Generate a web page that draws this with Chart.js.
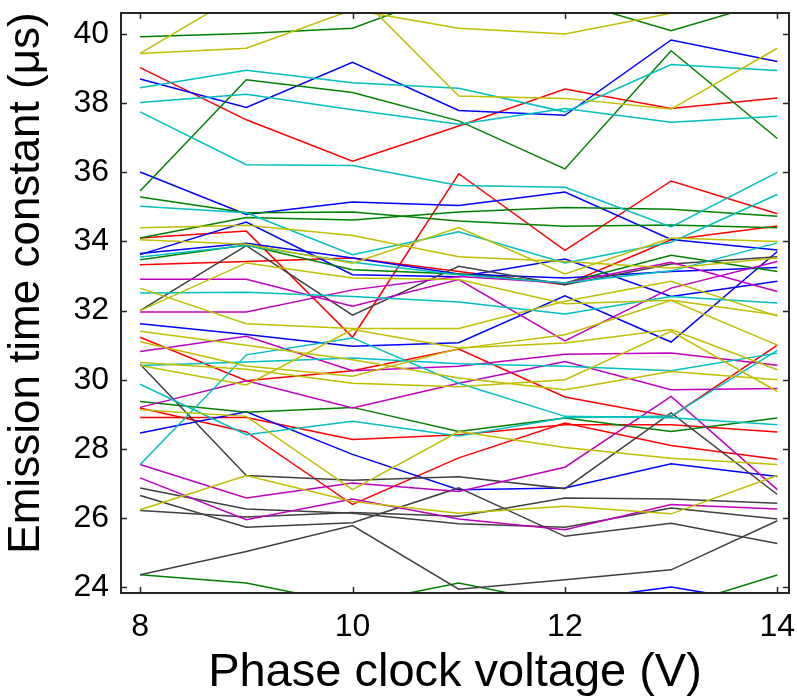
<!DOCTYPE html>
<html>
<head>
<meta charset="utf-8">
<script src="https://cdn.jsdelivr.net/npm/chart.js@4/dist/chart.umd.min.js"></script>
<style>
  html, body { margin: 0; padding: 0; background: #ffffff; }
  #wrap { width: 797px; height: 698px; }
</style>
</head>
<body>
<div id="wrap"><canvas id="c" width="797" height="698"></canvas></div>
<script>
// ---------------- data ----------------
const voltages = [8, 9, 10, 11, 12, 13, 14];
const xTickValues = [8, 10, 12, 14];
const yTickValues = [24, 26, 28, 30, 32, 34, 36, 38, 40];
const xTitle = 'Phase clock voltage (V)';
const yTitle = 'Emission time constant (μs)';

// blue series
const blue1 = [38.70, 37.88, 39.18, 37.79, 37.65, 39.83, 39.21];
const blue2 = [36.01, 34.78, 35.14, 35.04, 35.43, 34.06, 33.75];
const blue3 = [33.62, 34.56, 33.04, 32.98, 33.49, 32.41, 32.85];
const blue4 = [33.65, 33.95, 33.52, 33.06, 32.94, 33.13, 33.25];
const blue5 = [31.62, 31.31, 30.97, 31.07, 32.43, 31.09, 33.71];
const blue6 = [28.46, 29.07, 27.84, 26.82, 26.87, 27.57, 27.20];
const blue7 = [23.30, 23.40, 23.50, 23.50, 23.60, 24.00, 23.50];
// green series
const green1 = [39.92, 40.02, 40.17, 41.30, 41.00, 40.10, 41.00];
const green2 = [35.46, 38.68, 38.31, 37.49, 36.10, 39.52, 36.98];
const green3 = [35.29, 34.83, 34.85, 34.59, 34.44, 34.48, 34.40];
const green4 = [34.10, 34.69, 34.62, 34.85, 34.98, 34.93, 34.73];
const green5 = [33.47, 33.90, 33.18, 33.06, 32.80, 33.60, 33.13];
const green6 = [29.37, 29.06, 29.20, 28.50, 28.89, 28.50, 28.89];
const green7 = [24.36, 24.12, 23.50, 24.12, 23.50, 23.40, 24.35];
// red series
const red1 = [39.03, 37.52, 36.32, 37.34, 38.41, 37.85, 38.15];
const red2 = [34.10, 34.30, 31.23, 35.96, 33.74, 35.75, 34.80];
const red3 = [33.33, 33.42, 33.52, 33.13, 32.75, 34.05, 34.45];
const red4 = [31.23, 29.97, 30.26, 30.89, 29.50, 28.93, 31.00];
const red5 = [28.91, 28.91, 28.27, 28.41, 28.70, 28.70, 28.49];
const red6 = [29.18, 28.49, 26.39, 27.74, 28.75, 28.10, 27.70];
// cyan series
const cyan1 = [38.45, 38.95, 38.59, 38.43, 37.75, 39.12, 38.95];
const cyan2 = [38.02, 38.26, 37.81, 37.39, 37.85, 37.45, 37.62];
const cyan3 = [37.75, 36.22, 36.20, 35.62, 35.57, 34.42, 36.00];
const cyan4 = [35.02, 34.83, 33.62, 34.28, 33.38, 33.98, 35.36];
const cyan5 = [33.55, 33.88, 33.40, 33.04, 32.80, 33.15, 33.96];
const cyan6 = [32.51, 32.53, 32.41, 32.25, 31.90, 32.41, 32.22];
const cyan7 = [30.41, 30.51, 30.63, 30.46, 30.39, 30.26, 30.77];
const cyan8 = [27.55, 30.72, 31.21, 29.90, 28.94, 28.90, 28.70];
const cyan9 = [29.87, 28.41, 28.80, 28.37, 28.90, 28.95, 30.85];
// magenta series
const magenta1 = [32.91, 32.91, 32.13, 32.90, 31.12, 32.65, 33.42];
const magenta2 = [31.96, 31.96, 32.60, 32.99, 32.80, 33.40, 32.55];
const magenta3 = [30.82, 31.26, 30.26, 30.39, 30.74, 30.77, 30.42];
const magenta4 = [29.20, 29.97, 29.18, 29.90, 30.53, 29.71, 29.75];
const magenta5 = [27.55, 26.58, 27.01, 26.77, 27.47, 29.52, 26.82];
const magenta6 = [27.16, 25.95, 26.55, 25.97, 25.66, 26.39, 26.26];
// dark grey series
const grey1 = [32.00, 33.88, 31.87, 33.28, 32.75, 33.35, 33.56];
const grey2 = [30.45, 27.23, 27.09, 27.19, 26.85, 29.04, 26.68];
const grey3 = [26.87, 26.26, 26.14, 25.83, 25.73, 26.29, 25.97];
const grey4 = [26.65, 25.73, 25.86, 26.87, 25.47, 25.85, 25.26];
const grey5 = [26.22, 26.03, 26.16, 26.05, 26.58, 26.55, 26.43];
const grey6 = [24.36, 25.03, 25.78, 23.94, 24.21, 24.50, 25.92];
// yellow (olive) series
const yellow1 = [39.44, 39.59, 40.70, 40.17, 40.00, 40.60, 41.20];
const yellow2 = [39.44, 41.26, 41.30, 38.21, 38.14, 37.83, 39.59];
const yellow3 = [34.40, 34.47, 34.17, 33.56, 33.42, 33.23, 33.52];
const yellow4 = [34.05, 33.92, 33.37, 34.40, 33.06, 34.10, 34.00];
const yellow5 = [32.65, 31.62, 31.48, 31.48, 32.27, 32.85, 31.84];
const yellow6 = [32.00, 33.38, 32.94, 32.90, 32.20, 32.30, 31.87];
const yellow7 = [31.40, 31.00, 30.58, 30.05, 29.71, 30.24, 30.00];
const yellow8 = [30.41, 29.85, 31.45, 30.92, 31.06, 31.45, 30.29];
const yellow9 = [31.10, 30.40, 30.10, 30.90, 31.30, 32.30, 31.00];
const yellow10 = [30.50, 30.30, 29.90, 29.80, 30.00, 31.40, 29.66];
const yellow11 = [29.13, 28.94, 26.82, 28.50, 28.04, 27.73, 27.55];
const yellow12 = [26.24, 27.23, 26.48, 26.14, 26.34, 26.12, 27.23];

const COLORS = {
  blue: '#0000ff', green: '#008000', red: '#ff0000', cyan: '#00bfbf',
  magenta: '#bf00bf', yellow: '#bfbf00', grey: '#404040'
};

const seriesGroups = [
  ['yellow', [yellow1, yellow2, yellow3, yellow4, yellow5, yellow6, yellow7, yellow8, yellow9, yellow10, yellow11, yellow12]],
  ['cyan', [cyan1, cyan2, cyan3, cyan4, cyan5, cyan6, cyan7, cyan8, cyan9]],
  ['magenta', [magenta1, magenta2, magenta3, magenta4, magenta5, magenta6]],
  ['grey', [grey1, grey2, grey3, grey4, grey5, grey6]],
  ['green', [green1, green2, green3, green4, green5, green6, green7]],
  ['blue', [blue1, blue2, blue3, blue4, blue5, blue6, blue7]],
  ['red', [red1, red2, red3, red4, red5, red6]]
];

const datasets = [];
seriesGroups.forEach(([col, list]) => {
  list.forEach((vals) => {
    datasets.push({
      data: vals.map((v, i) => ({ x: voltages[i], y: v })),
      borderColor: COLORS[col],
      borderWidth: 1.5,
      pointRadius: 0,
      fill: false,
      tension: 0
    });
  });
});

const FONT = "'Liberation Sans', Arial, Helvetica, sans-serif";

// frame with inward ticks on all four sides + rotated y-axis title
const framePlugin = {
  id: 'frame',
  afterDraw(chart) {
    const { ctx, chartArea: a, scales } = chart;
    const tl = 6;
    ctx.save();
    ctx.strokeStyle = '#262626';
    ctx.lineWidth = 1.5;
    ctx.beginPath();
    scales.x.ticks.forEach(t => {
      const px = Math.round(scales.x.getPixelForValue(t.value)) + 0.5;
      ctx.moveTo(px, a.bottom); ctx.lineTo(px, a.bottom - tl);
      ctx.moveTo(px, a.top); ctx.lineTo(px, a.top + tl);
    });
    scales.y.ticks.forEach(t => {
      const py = Math.round(scales.y.getPixelForValue(t.value)) + 0.5;
      ctx.moveTo(a.left, py); ctx.lineTo(a.left + tl, py);
      ctx.moveTo(a.right, py); ctx.lineTo(a.right - tl, py);
    });
    ctx.stroke();
    ctx.lineWidth = 2;
    ctx.strokeRect(a.left, a.top, a.right - a.left, a.bottom - a.top);

    // y-axis title
    ctx.translate(27, (a.top + a.bottom) / 2 - 20);
    ctx.rotate(-Math.PI / 2);
    ctx.fillStyle = '#000';
    ctx.font = '44px ' + FONT;
    ctx.textAlign = 'center';
    ctx.textBaseline = 'middle';
    ctx.fillText(yTitle, 0, 0);
    ctx.restore();
  }
};

new Chart(document.getElementById('c'), {
  type: 'line',
  data: { datasets },
  options: {
    responsive: false,
    animation: false,
    events: [],
    layout: { padding: { top: 13, right: 8, left: 0, bottom: 0 } },
    plugins: { legend: { display: false }, tooltip: { enabled: false } },
    scales: {
      x: {
        type: 'linear',
        min: 7.82, max: 14.11,
        afterBuildTicks: s => { s.ticks = xTickValues.map(v => ({ value: v })); },
        afterFit: s => { s.height = 105; s.paddingLeft = 0; s.paddingRight = 0; },
        grid: { display: false, drawTicks: false },
        border: { display: false },
        ticks: { color: '#000', font: { family: FONT, size: 32 }, padding: 15, maxRotation: 0, autoSkip: false,
                 callback: v => String(v) },
        title: { display: true, text: xTitle, color: '#000',
                 font: { family: FONT, size: 47, lineHeight: 1.0 }, padding: { top: 0, bottom: 1 } }
      },
      y: {
        type: 'linear',
        min: 23.83, max: 40.61,
        afterBuildTicks: s => { s.ticks = yTickValues.map(v => ({ value: v })); },
        afterFit: s => { s.width = 121; s.paddingTop = 0; s.paddingBottom = 0; },
        grid: { display: false, drawTicks: false },
        border: { display: false },
        ticks: { color: '#000', font: { family: FONT, size: 32 }, padding: 12, autoSkip: false,
                 callback: v => String(v) },
        title: { display: false }
      }
    }
  },
  plugins: [framePlugin]
});
</script>
</body>
</html>
